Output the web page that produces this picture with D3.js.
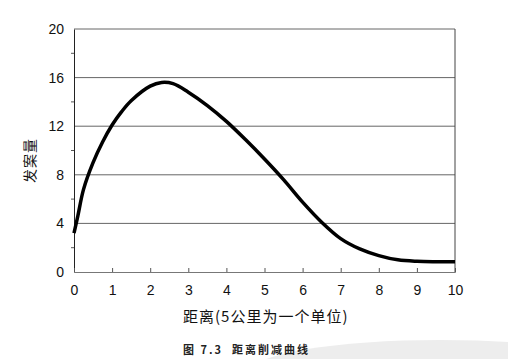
<!DOCTYPE html>
<html>
<head>
<meta charset="utf-8">
<script src="https://cdn.jsdelivr.net/npm/d3@7"></script>
<style>
  body { margin: 0; background: #fff; }
  svg { display: block; }
</style>
</head>
<body>
<svg id="chart" width="508" height="359"></svg>
<script>
// distance (units of 5 km) vs. crime count
const distance = [0, 0.1, 0.25, 0.5, 0.75, 1, 1.25, 1.5, 2, 2.3, 2.6, 3, 3.5, 4, 4.5, 5, 5.5, 6, 6.5, 7, 7.5, 8, 8.5, 9, 9.5, 10];
const crimes =   [3.2, 4.6, 6.8, 9.0, 10.7, 12.1, 13.2, 14.1, 15.3, 15.6, 15.5, 14.8, 13.7, 12.4, 10.9, 9.3, 7.6, 5.75, 4.1, 2.75, 1.9, 1.35, 1.0, 0.88, 0.85, 0.85];
const xTicks = [0, 1, 2, 3, 4, 5, 6, 7, 8, 9, 10];
const yTicks = [0, 4, 8, 12, 16, 20];
const yMinor = [2, 6, 10, 14, 18];

const svg = d3.select("#chart");
const plotLeft = 74, plotRight = 455, plotTop = 29, plotBottom = 272;

const x = d3.scaleLinear().domain([0, 10]).range([plotLeft, plotRight]);
const y = d3.scaleLinear().domain([0, 20]).range([plotBottom, plotTop]);

// faint smudge bottom right
svg.append("ellipse")
  .attr("cx", 440).attr("cy", 372).attr("rx", 190).attr("ry", 32)
  .attr("fill", "#ededed");

// horizontal grid lines
svg.append("g")
  .selectAll("line")
  .data(yTicks.filter(d => d > 0))
  .join("line")
  .attr("x1", plotLeft).attr("x2", plotRight)
  .attr("y1", d => y(d)).attr("y2", d => y(d))
  .attr("stroke", "#555").attr("stroke-width", 0.9);

// right border
svg.append("line")
  .attr("x1", plotRight).attr("x2", plotRight).attr("y1", plotTop).attr("y2", plotBottom)
  .attr("stroke", "#444").attr("stroke-width", 1);

// y axis
const yAxis = svg.append("g")
  .attr("transform", `translate(${plotLeft},0)`)
  .call(d3.axisLeft(y).tickValues(yTicks).tickSize(0).tickPadding(10));
yAxis.select(".domain").attr("stroke", "#222");
yAxis.selectAll("text")
  .attr("font-family", "Liberation Sans, Arial, sans-serif")
  .attr("font-size", 14).attr("fill", "#111");
yAxis.selectAll(".minor")
  .data(yMinor)
  .join("line")
  .attr("class", "minor")
  .attr("x1", -3).attr("x2", 0)
  .attr("y1", d => y(d)).attr("y2", d => y(d))
  .attr("stroke", "#555");

// x axis
const xAxis = svg.append("g")
  .attr("transform", `translate(0,${plotBottom})`)
  .call(d3.axisBottom(x).tickValues(xTicks).tickSize(-4).tickPadding(13));
xAxis.select(".domain").attr("stroke", "#777");
xAxis.selectAll(".tick line").attr("stroke", "#555");
xAxis.selectAll("text")
  .attr("font-family", "Liberation Sans, Arial, sans-serif")
  .attr("font-size", 14).attr("fill", "#111");

// curve
svg.append("path")
  .datum(distance.map((d, i) => [d, crimes[i]]))
  .attr("fill", "none")
  .attr("stroke", "#000")
  .attr("stroke-width", 3.5)
  .attr("stroke-linejoin", "round")
  .attr("d", d3.line().x(d => x(d[0])).y(d => y(d[1])).curve(d3.curveCatmullRom.alpha(0.5)));

// axis titles
svg.append("text")
  .attr("transform", `translate(35,${(plotTop + plotBottom) / 2 + 10}) rotate(-90)`)
  .attr("text-anchor", "middle")
  .attr("font-family", "Noto Sans CJK SC, sans-serif")
  .attr("font-size", 14).attr("letter-spacing", 1).attr("fill", "#111")
  .text("发案量");

svg.append("text")
  .attr("x", 183).attr("y", 322)
  .attr("font-family", "Noto Sans CJK SC, sans-serif")
  .attr("font-size", 15).attr("letter-spacing", 1).attr("fill", "#111")
  .text("距离(5公里为一个单位)");

svg.append("text")
  .attr("x", 183).attr("y", 354)
  .attr("font-family", "Noto Sans CJK SC, sans-serif")
  .attr("font-size", 11).attr("font-weight", "bold").attr("letter-spacing", 2).attr("fill", "#222")
  .attr("xml:space", "preserve")
  .text("图 7.3  距离削减曲线");
</script>
</body>
</html>
